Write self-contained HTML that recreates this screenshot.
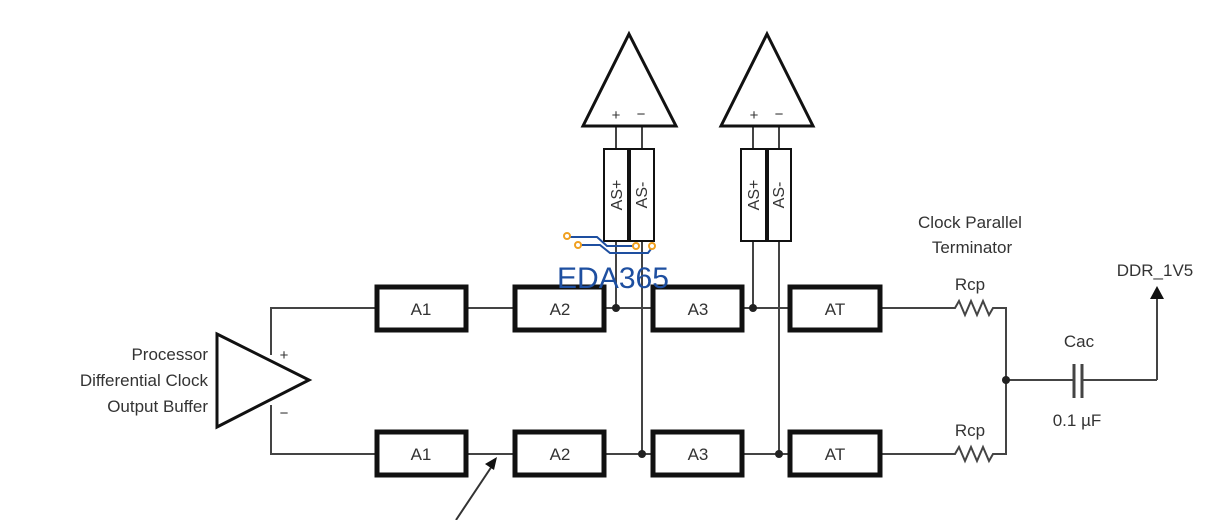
<!DOCTYPE html>
<html><head><meta charset="utf-8"><style>
html,body{margin:0;padding:0;background:#fff;}
svg{display:block;}
text{font-family:"Liberation Sans",Arial,sans-serif;fill:#333;}
</style></head><body>
<svg width="1230" height="520" viewBox="0 0 1230 520" xmlns="http://www.w3.org/2000/svg">
<g stroke="#444" stroke-width="2" fill="none">
<!-- main lines -->
<polyline points="271,355 271,308 375,308"/>
<polyline points="271,405 271,454 375,454"/>
<line x1="468" y1="308" x2="513" y2="308"/>
<line x1="468" y1="454" x2="513" y2="454"/>
<line x1="606" y1="308" x2="651" y2="308"/>
<line x1="606" y1="454" x2="651" y2="454"/>
<line x1="744" y1="308" x2="788" y2="308"/>
<line x1="744" y1="454" x2="788" y2="454"/>
<line x1="882" y1="308" x2="950" y2="308"/>
<line x1="882" y1="454" x2="950" y2="454"/>
<!-- verticals -->
<line x1="616" y1="127" x2="616" y2="308"/>
<line x1="642" y1="127" x2="642" y2="454"/>
<line x1="753" y1="127" x2="753" y2="308"/>
<line x1="779" y1="127" x2="779" y2="454"/>
<!-- resistors -->
<polyline points="950,308 955,308 959,301 965,315 971,301 977,315 983,301 989,315 993,308 1006,308 1006,454 993,454 989,461 983,447 977,461 971,447 965,461 959,447 955,454 950,454"/>
<line x1="1006" y1="380" x2="1073" y2="380"/>
<line x1="1083" y1="380" x2="1157" y2="380"/>
<line x1="1157" y1="380" x2="1157" y2="298"/>
</g>
<g stroke="#444" stroke-width="3" fill="none">
<line x1="1074" y1="364" x2="1074" y2="398"/>
<line x1="1082" y1="364" x2="1082" y2="398"/>
</g>
<polygon points="1150,299 1164,299 1157,286" fill="#111"/>
<g fill="#222">
<circle cx="616" cy="308" r="4"/><circle cx="642" cy="454" r="4"/>
<circle cx="753" cy="308" r="4"/><circle cx="779" cy="454" r="4"/>
<circle cx="1006" cy="380" r="4"/>
</g>
<!-- boxes -->
<g stroke="#111" stroke-width="5" fill="#fff">
<rect x="377" y="287" width="89" height="43"/>
<rect x="515" y="287" width="89" height="43"/>
<rect x="653" y="287" width="89" height="43"/>
<rect x="790" y="287" width="90" height="43"/>
<rect x="377" y="432" width="89" height="43"/>
<rect x="515" y="432" width="89" height="43"/>
<rect x="653" y="432" width="89" height="43"/>
<rect x="790" y="432" width="90" height="43"/>
</g>
<g font-size="17" text-anchor="middle">
<text x="421" y="315">A1</text><text x="560" y="315">A2</text><text x="698" y="315">A3</text><text x="835" y="315">AT</text>
<text x="421" y="460">A1</text><text x="560" y="460">A2</text><text x="698" y="460">A3</text><text x="835" y="460">AT</text>
</g>
<!-- AS boxes -->
<g stroke="#111" stroke-width="2" fill="#fff">
<rect x="604" y="149" width="50" height="92"/>
<rect x="741" y="149" width="50" height="92"/>
</g>
<line x1="629" y1="149" x2="629" y2="241" stroke="#111" stroke-width="4"/>
<line x1="767" y1="149" x2="767" y2="241" stroke="#111" stroke-width="4"/>
<g font-size="16" text-anchor="middle">
<text transform="translate(622,195) rotate(-90)">AS+</text>
<text transform="translate(647,195) rotate(-90)">AS-</text>
<text transform="translate(759,195) rotate(-90)">AS+</text>
<text transform="translate(784,195) rotate(-90)">AS-</text>
</g>
<!-- amplifiers -->
<g stroke="#111" stroke-width="3" fill="#fff">
<polygon points="629,34 676,126 583,126"/>
<polygon points="767,34 813,126 721,126"/>
<polygon points="217,334 309,380 217,427"/>
</g>
<g font-size="15" text-anchor="middle">
<text x="616" y="120">+</text><text x="641" y="119">−</text>
<text x="754" y="120">+</text><text x="779" y="119">−</text>
<text x="284" y="360">+</text><text x="284" y="418">−</text>
</g>
<!-- left labels -->
<g font-size="17" text-anchor="end">
<text x="208" y="360">Processor</text>
<text x="208" y="386">Differential Clock</text>
<text x="208" y="412">Output Buffer</text>
</g>
<g font-size="17" text-anchor="middle">
<text x="970" y="228">Clock Parallel</text>
<text x="972" y="253">Terminator</text>
<text x="970" y="290">Rcp</text>
<text x="970" y="436">Rcp</text>
<text x="1079" y="347">Cac</text>
<text x="1077" y="426">0.1 µF</text>
<text x="1155" y="276">DDR_1V5</text>
</g>
<!-- bottom arrow -->
<line x1="456" y1="520" x2="492" y2="466" stroke="#333" stroke-width="2"/>
<polygon points="497,457 485,464 494,470" fill="#111"/>
<!-- watermark -->
<g stroke="#1e4fa0" stroke-width="2" fill="none">
<polyline points="570,237 597,237 607,246 633,246"/>
<polyline points="581,245 600,245 610,253 648,253 651,249"/>
</g>
<g stroke="#f0a020" stroke-width="2" fill="#fff">
<circle cx="567" cy="236" r="3"/><circle cx="578" cy="245" r="3"/>
<circle cx="636" cy="246" r="3"/><circle cx="652" cy="246" r="3"/>
</g>
<text x="557" y="288" font-size="30" style="fill:#1e4fa0" textLength="112" lengthAdjust="spacingAndGlyphs">EDA365</text>
</svg>
</body></html>
